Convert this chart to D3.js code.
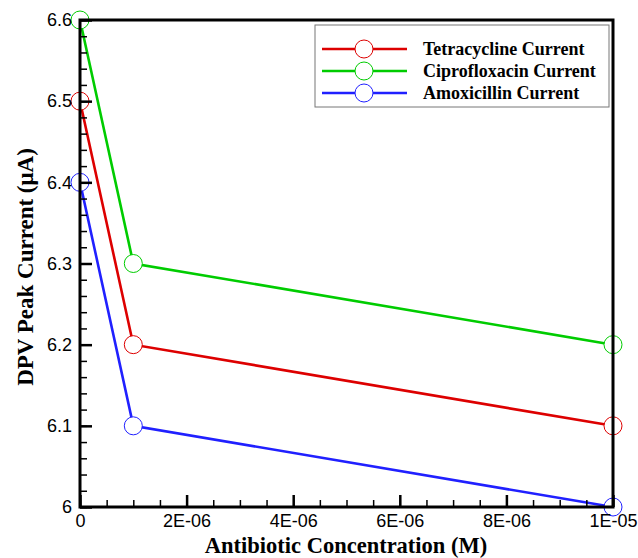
<!DOCTYPE html>
<html><head><meta charset="utf-8">
<script src="https://cdn.jsdelivr.net/npm/d3@7"></script>
<style>body{margin:0;background:#fff}svg{display:block}</style>
</head><body>
<script>
const concentrations = [0, 1e-6, 1e-5];
const tetracycline = [6.5, 6.2, 6.1];
const ciprofloxacin = [6.6, 6.3, 6.2];
const amoxicillin = [6.4, 6.1, 6.0];
const seriesNames = ["Tetracycline Current", "Ciprofloxacin Current", "Amoxicillin Current"];
const seriesColors = ["#dd0000", "#00cc00", "#2020ff"];
const xTickValues = [0, 2e-6, 4e-6, 6e-6, 8e-6, 1e-5];
const xTickLabels = ["0", "2E-06", "4E-06", "6E-06", "8E-06", "1E-05"];
const yTickValues = [6.0, 6.1, 6.2, 6.3, 6.4, 6.5, 6.6];
const yTickLabels = ["6", "6.1", "6.2", "6.3", "6.4", "6.5", "6.6"];

const W = 638, H = 558;
const m = {left: 80, right: 25, top: 20, bottom: 51};
const svg = d3.select("body").append("svg").attr("width", W).attr("height", H);

const x = d3.scaleLinear().domain([0, 1e-5]).range([m.left, W - m.right]);
const y = d3.scaleLinear().domain([6.0, 6.6]).range([H - m.bottom, m.top]);

const series = [tetracycline, ciprofloxacin, amoxicillin].map((vals, i) => ({
  name: seriesNames[i], color: seriesColors[i],
  pts: concentrations.map((c, j) => ({x: c, y: vals[j]}))
}));

// lines
const line = d3.line().x(d => x(d.x)).y(d => y(d.y));
svg.append("g").selectAll("path").data(series).join("path")
  .attr("d", d => line(d.pts)).attr("fill", "none")
  .attr("stroke", d => d.color).attr("stroke-width", 2.6);

// markers
series.forEach(s => {
  svg.append("g").selectAll("circle").data(s.pts).join("circle")
    .attr("cx", d => x(d.x)).attr("cy", d => y(d.y)).attr("r", 9)
    .attr("fill", "#fff").attr("stroke", s.color).attr("stroke-width", 1);
});

// axes (ticks inward)
const minorX = d3.range(0, 1e-5 + 1e-12, 5e-7);
const minorY = d3.range(6.0, 6.6 + 1e-9, 0.02);
const gx = svg.append("g").attr("transform", `translate(0,${H - m.bottom})`);
gx.call(d3.axisBottom(x).tickValues(minorX).tickSize(-7).tickFormat(""));
gx.selectAll(".domain").remove();
gx.selectAll("line").attr("stroke", "#000").attr("stroke-width", 1.5);
const gx2 = svg.append("g").attr("transform", `translate(0,${H - m.bottom})`);
gx2.call(d3.axisBottom(x).tickValues(xTickValues).tickSize(-12).tickPadding(7)
  .tickFormat((d, i) => xTickLabels[i]));
gx2.selectAll(".domain").remove();
gx2.selectAll("line").attr("stroke", "#000").attr("stroke-width", 2.5);
gx2.selectAll("text").attr("font-family", "Liberation Sans, Arial, sans-serif")
  .attr("font-size", 18).attr("fill", "#000");

const gy = svg.append("g").attr("transform", `translate(${m.left},0)`);
gy.call(d3.axisLeft(y).tickValues(minorY).tickSize(-7).tickFormat(""));
gy.selectAll(".domain").remove();
gy.selectAll("line").attr("stroke", "#000").attr("stroke-width", 1.5);
const gy2 = svg.append("g").attr("transform", `translate(${m.left},0)`);
gy2.call(d3.axisLeft(y).tickValues(yTickValues).tickSize(-12).tickPadding(8)
  .tickFormat((d, i) => yTickLabels[i]));
gy2.selectAll(".domain").remove();
gy2.selectAll("line").attr("stroke", "#000").attr("stroke-width", 2.5);
gy2.selectAll("text").attr("font-family", "Liberation Sans, Arial, sans-serif")
  .attr("font-size", 18).attr("fill", "#000");

// frame
svg.append("rect").attr("x", m.left).attr("y", m.top)
  .attr("width", W - m.left - m.right).attr("height", H - m.top - m.bottom)
  .attr("fill", "none").attr("stroke", "#000").attr("stroke-width", 3);

// axis titles
svg.append("text").attr("x", 346).attr("y", 553).attr("text-anchor", "middle")
  .attr("font-family", "Liberation Serif, Times New Roman, serif").attr("font-weight", "bold")
  .attr("font-size", 22.5).text("Antibiotic Concentration (M)");
svg.append("text").attr("transform", "translate(33,267) rotate(-90)").attr("text-anchor", "middle")
  .attr("font-family", "Liberation Serif, Times New Roman, serif").attr("font-weight", "bold")
  .attr("font-size", 23).text("DPV Peak Current (μA)");

// legend
const lg = svg.append("g");
lg.append("rect").attr("x", 315).attr("y", 25).attr("width", 294).attr("height", 82)
  .attr("fill", "#fff").attr("stroke", "#777").attr("stroke-width", 1);
series.forEach((s, i) => {
  const yy = 49 + i * 22;
  lg.append("line").attr("x1", 322).attr("x2", 407).attr("y1", yy).attr("y2", yy)
    .attr("stroke", s.color).attr("stroke-width", 2.6);
  lg.append("circle").attr("cx", 364).attr("cy", yy).attr("r", 9)
    .attr("fill", "#fff").attr("stroke", s.color).attr("stroke-width", 1);
  lg.append("text").attr("x", 423).attr("y", yy + 6)
    .attr("font-family", "Liberation Serif, Times New Roman, serif").attr("font-weight", "bold")
    .attr("font-size", 18).text(s.name);
});
</script>
</body></html>
